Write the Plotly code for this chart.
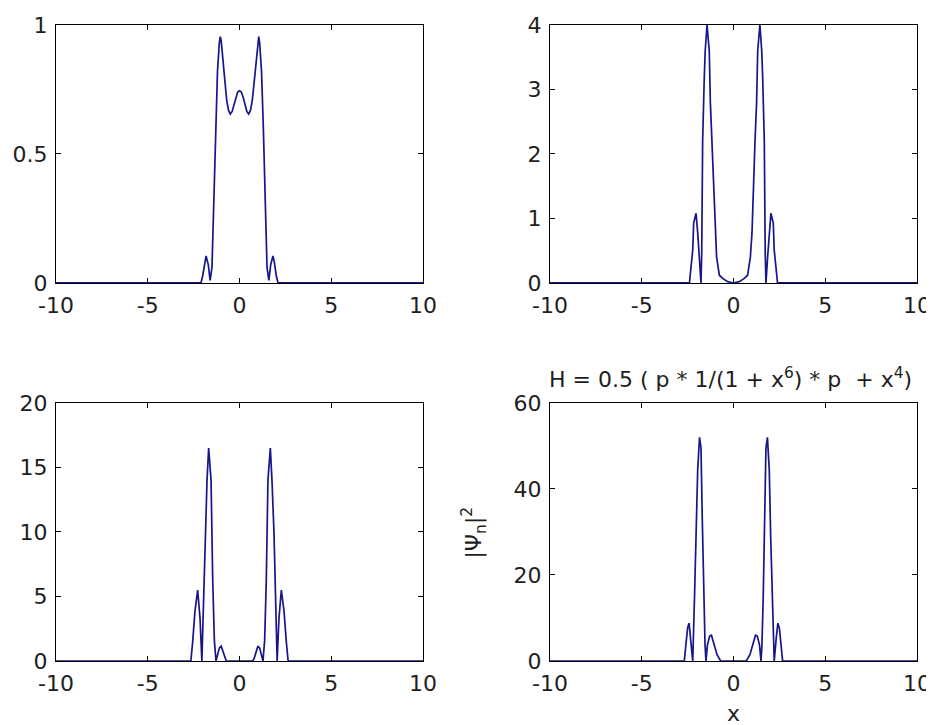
import plotly.graph_objects as go
from plotly.subplots import make_subplots

# |psi_n|^2 (zero outside the listed region)
x1 = [-10, -2.1, -2.0, -1.9, -1.82, -1.7, -1.6, -1.5, -1.4, -1.3, -1.2, -1.1, -1.05, -1.0,
      -0.9, -0.8, -0.7, -0.6, -0.5, -0.4, -0.3, -0.2, -0.1, 0.0,
      0.1, 0.2, 0.3, 0.4, 0.5, 0.6, 0.7, 0.8, 0.9, 1.0, 1.05, 1.1, 1.2, 1.3, 1.4, 1.5,
      1.6, 1.7, 1.82, 1.9, 2.0, 2.1, 10]
y1 = [0, 0, 0.03, 0.08, 0.105, 0.07, 0.01, 0.06, 0.30, 0.60, 0.82, 0.93, 0.955, 0.94,
      0.87, 0.78, 0.71, 0.67, 0.655, 0.665, 0.69, 0.72, 0.74, 0.745,
      0.74, 0.72, 0.69, 0.665, 0.655, 0.67, 0.71, 0.78, 0.87, 0.94, 0.955, 0.93, 0.82, 0.60, 0.30, 0.06,
      0.01, 0.07, 0.105, 0.08, 0.03, 0, 0]

x2 = [-10, -2.4, -2.32, -2.22, -2.17, -2.04, -1.95, -1.86, -1.77, -1.73, -1.68, -1.59, -1.54, -1.44,
      -1.32, -1.26, -1.17, -1.10, -1.01, -0.92, -0.77, -0.59, -0.32, 0.0,
      0.32, 0.59, 0.77, 0.92, 1.01, 1.10, 1.17, 1.26, 1.32,
      1.44, 1.54, 1.59, 1.68, 1.73, 1.77, 1.86, 1.95, 2.04, 2.17, 2.22, 2.32, 2.4, 10]
y2 = [0, 0, 0.23, 0.51, 0.93, 1.08, 0.78, 0.40, 0.0, 0.46, 2.2, 3.2, 3.6, 4.0,
      3.6, 2.8, 2.17, 1.65, 0.78, 0.40, 0.12, 0.07, 0.02, 0.0,
      0.02, 0.07, 0.12, 0.40, 0.78, 1.65, 2.17, 2.8, 3.6,
      4.0, 3.6, 3.2, 2.2, 0.46, 0.0, 0.40, 0.78, 1.08, 0.93, 0.51, 0.23, 0, 0]

x3 = [-10, -2.65, -2.55, -2.43, -2.28, -2.15, -2.05, -1.88, -1.77, -1.68, -1.55, -1.46, -1.37, -1.28,
      -1.2, -1.1, -1.0, -0.9, -0.8, -0.72, 0.0,
      0.72, 0.8, 0.9, 1.0, 1.1, 1.2,
      1.28, 1.37, 1.46, 1.55, 1.68, 1.77, 1.88, 2.05, 2.15, 2.28, 2.43, 2.55, 2.65, 10]
y3 = [0, 0, 1.5, 3.8, 5.5, 3.3, 0.0, 9.9, 14.0, 16.5, 14.0, 6.3, 1.6, 0.0,
      0.4, 1.0, 1.15, 0.7, 0.2, 0.0, 0.0,
      0.0, 0.2, 0.7, 1.15, 1.0, 0.4,
      0.0, 1.6, 6.3, 14.0, 16.5, 14.0, 9.9, 0.0, 3.3, 5.5, 3.8, 1.5, 0, 0]

x4 = [-10, -2.68, -2.6, -2.5, -2.42, -2.33, -2.22, -2.12, -2.03, -1.95, -1.85, -1.77, -1.7, -1.62,
      -1.55, -1.5, -1.42, -1.3, -1.2, -1.05, -0.9, -0.7, 0.0,
      0.7, 0.9, 1.05, 1.2, 1.3, 1.42, 1.5,
      1.55, 1.62, 1.7, 1.77, 1.85, 1.95, 2.03, 2.12, 2.22, 2.33, 2.42, 2.5, 2.6, 2.68, 10]
y4 = [0, 0, 3.5, 7.7, 8.8, 5.3, 0.0, 15.4, 28.6, 44.5, 52.0, 49.5, 33.0, 14.6,
      3.7, 0.0, 3.7, 5.8, 6.0, 3.7, 1.5, 0.0, 0.0,
      0.0, 1.5, 3.7, 6.0, 5.8, 3.7, 0.0,
      3.7, 14.6, 33.0, 49.5, 52.0, 44.5, 28.6, 15.4, 0.0, 5.3, 8.8, 7.7, 3.5, 0, 0]

x_ticks = [-10, -5, 0, 5, 10]
x_ticklabels = ["-10", "-5", "0", "5", "10"]
y_ticks = [[0, 0.5, 1], [0, 1, 2, 3, 4], [0, 5, 10, 15, 20], [0, 20, 40, 60]]
y_ticklabels = [["0", "0.5", "1"], ["0", "1", "2", "3", "4"],
                ["0", "5", "10", "15", "20"], ["0", "20", "40", "60"]]
y_ranges = [[0, 1], [0, 4], [0, 20], [0, 60]]

title_text = "H = 0.5 ( p * 1/(1 + x<sup>6</sup>) * p \u00a0+ x<sup>4</sup>)"
ylabel_text = "|\u03a8<sub>n</sub>|<sup>2</sup>"
xlabel_text = "x"

line_col = "#16168a"
font = dict(family="DejaVu Sans, sans-serif", size=22, color="#1e1e1e")

fig = make_subplots(rows=2, cols=2)
series = [(x1, y1), (x2, y2), (x3, y3), (x4, y4)]
for i, (xs, ys) in enumerate(series):
    fig.add_trace(go.Scatter(x=xs, y=ys, mode="lines", line=dict(color=line_col, width=1.7),
                             showlegend=False), row=i // 2 + 1, col=i % 2 + 1)

# page has an 8px body margin, so the figure is 926x717 and domains are set for that
xdoms = [[0.0518, 0.4482], [0.5853, 0.9816]]
ydoms = [[0.6165, 0.9763], [0.0893, 0.4491]]
for i in range(4):
    r, c = i // 2, i % 2
    ax = "" if i == 0 else str(i + 1)
    fig.layout["xaxis" + ax].update(domain=xdoms[c], range=[-10, 10], tickvals=x_ticks,
                                    ticktext=x_ticklabels, automargin=False,
                                    ticks="inside", ticklen=5, showline=True, mirror="ticks",
                                    linecolor="black", linewidth=1, tickcolor="black",
                                    showgrid=False, zeroline=False, tickfont=font,
                                    ticklabelstandoff=3)
    fig.layout["yaxis" + ax].update(domain=ydoms[r], range=y_ranges[i], tickvals=y_ticks[i],
                                    ticktext=y_ticklabels[i], automargin=False,
                                    ticks="inside", ticklen=5, showline=True,
                                    mirror="ticks", linecolor="black", linewidth=1,
                                    tickcolor="black", showgrid=False, zeroline=False,
                                    tickfont=font, ticklabelstandoff=3)

fig.add_annotation(text=title_text, x=0.7797, y=0.484, xref="paper", yref="paper",
                   showarrow=False, font=font, xanchor="center", yanchor="middle")
fig.add_annotation(text=ylabel_text, x=0.503, y=0.268, xref="paper", yref="paper",
                   showarrow=False, font=font, textangle=-90, xanchor="center", yanchor="middle")
fig.add_annotation(text=xlabel_text, x=0.783, y=0.016, xref="paper", yref="paper",
                   showarrow=False, font=font, xanchor="center", yanchor="middle")

fig.update_layout(width=926, height=717, margin=dict(l=0, r=0, t=0, b=0),
                  paper_bgcolor="white", plot_bgcolor="white")

fig.write_html("out.html")
